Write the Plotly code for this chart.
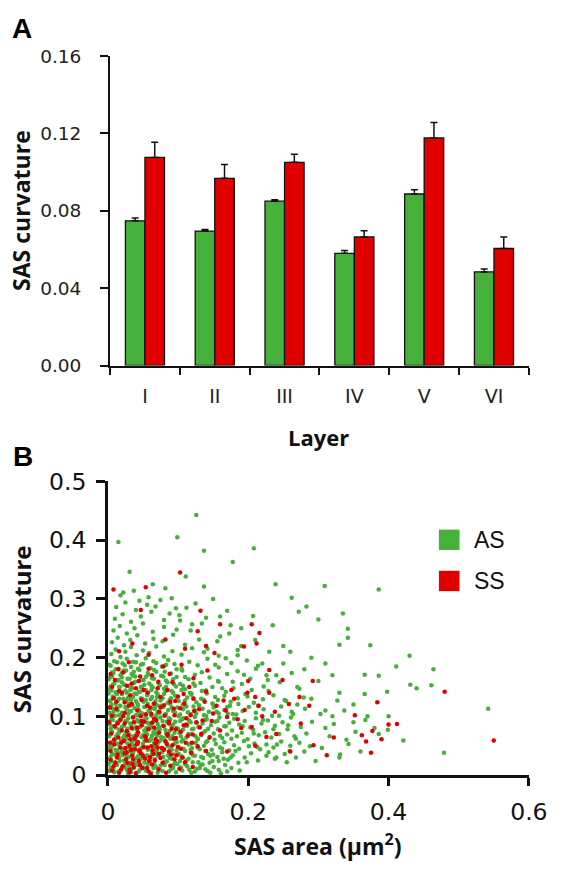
import plotly.graph_objects as go

W, H = 566, 884

# ---------------- Panel A data ----------------
layers = ["I", "II", "III", "IV", "V", "VI"]
as_curv_mean = [0.0748, 0.0695, 0.0850, 0.0580, 0.0887, 0.0484]
as_curv_sem = [0.0015, 0.0008, 0.0007, 0.0015, 0.0022, 0.0015]
ss_curv_mean = [0.1076, 0.0968, 0.1051, 0.0665, 0.1177, 0.0605]
ss_curv_sem = [0.0078, 0.0072, 0.0042, 0.0032, 0.0080, 0.0060]

a_yticks = [0.00, 0.04, 0.08, 0.12, 0.16]
a_yticktext = ["0.00", "0.04", "0.08", "0.12", "0.16"]

# ---------------- Panel B data: (SAS area, SAS curvature) ----------------
as_points = [
    (0.004,0.012),(0.009,0.005),(0.013,0.017),(0.018,0.008),(0.024,0.014),(0.029,0.003),(0.034,0.011),(0.039,0.018),(0.044,0.006),(0.051,0.013),
    (0.057,0.019),(0.062,0.004),(0.068,0.015),(0.074,0.009),(0.081,0.017),(0.087,0.006),(0.093,0.012),(0.099,0.019),(0.106,0.008),(0.113,0.015),
    (0.119,0.004),(0.127,0.011),(0.135,0.018),(0.142,0.007),(0.151,0.014),(0.158,0.009),(0.167,0.017),(0.176,0.012),(0.188,0.008),(0.161,0.003),
    (0.002,0.027),(0.006,0.036),(0.010,0.022),(0.014,0.031),(0.019,0.039),(0.023,0.025),(0.027,0.033),(0.032,0.021),(0.036,0.038),(0.041,0.029),
    (0.045,0.024),(0.049,0.035),(0.054,0.030),(0.058,0.022),(0.063,0.037),(0.067,0.027),(0.072,0.032),(0.077,0.039),(0.081,0.023),(0.086,0.034),
    (0.091,0.028),(0.096,0.021),(0.101,0.036),(0.107,0.030),(0.112,0.025),(0.118,0.038),(0.124,0.033),(0.129,0.022),(0.136,0.029),(0.143,0.036),
    (0.149,0.024),(0.156,0.031),(0.163,0.039),(0.171,0.026),(0.178,0.034),(0.186,0.021),(0.195,0.030),(0.204,0.037),(0.214,0.025),(0.226,0.033),
    (0.238,0.028),(0.252,0.036),(0.268,0.030),(0.296,0.024),(0.331,0.035),
    (0.003,0.048),(0.007,0.056),(0.011,0.043),(0.015,0.052),(0.019,0.059),(0.024,0.045),(0.028,0.054),(0.032,0.041),(0.037,0.050),(0.041,0.057),
    (0.046,0.044),(0.050,0.053),(0.054,0.047),(0.059,0.058),(0.063,0.042),(0.068,0.051),(0.072,0.055),(0.077,0.046),(0.082,0.059),(0.086,0.049),
    (0.091,0.043),(0.095,0.054),(0.100,0.048),(0.105,0.057),(0.110,0.041),(0.115,0.052),(0.120,0.046),(0.125,0.055),(0.131,0.044),(0.137,0.050),
    (0.142,0.058),(0.148,0.043),(0.154,0.053),(0.160,0.047),(0.166,0.056),(0.173,0.042),(0.180,0.051),(0.187,0.045),(0.194,0.058),(0.201,0.049),
    (0.209,0.054),(0.217,0.044),(0.226,0.052),(0.236,0.047),(0.247,0.057),(0.259,0.041),(0.273,0.055),(0.288,0.049),(0.305,0.046),(0.343,0.053),
    (0.002,0.066),(0.006,0.074),(0.010,0.061),(0.014,0.070),(0.018,0.078),(0.022,0.064),(0.026,0.072),(0.031,0.068),(0.035,0.079),(0.039,0.062),
    (0.043,0.071),(0.048,0.065),(0.052,0.076),(0.056,0.069),(0.061,0.061),(0.065,0.073),(0.070,0.067),(0.074,0.078),(0.079,0.063),(0.083,0.071),
    (0.088,0.075),(0.092,0.066),(0.097,0.060),(0.102,0.072),(0.107,0.077),(0.112,0.064),(0.117,0.070),(0.122,0.079),(0.128,0.062),(0.133,0.068),
    (0.139,0.075),(0.145,0.065),(0.151,0.071),(0.157,0.078),(0.163,0.063),(0.170,0.069),(0.177,0.076),(0.184,0.066),(0.191,0.072),(0.199,0.061),
    (0.207,0.077),(0.215,0.068),(0.224,0.073),(0.233,0.064),(0.244,0.070),(0.256,0.078),(0.268,0.062),(0.283,0.071),(0.316,0.066),(0.353,0.074),
    (0.003,0.086),(0.007,0.094),(0.011,0.081),(0.015,0.090),(0.019,0.098),(0.023,0.084),(0.027,0.092),(0.032,0.088),(0.036,0.099),(0.040,0.082),
    (0.044,0.091),(0.049,0.085),(0.053,0.096),(0.057,0.089),(0.062,0.081),(0.066,0.093),(0.071,0.087),(0.075,0.098),(0.080,0.083),(0.084,0.091),
    (0.089,0.095),(0.093,0.086),(0.098,0.080),(0.103,0.092),(0.108,0.097),(0.113,0.084),(0.118,0.090),(0.124,0.099),(0.129,0.082),(0.135,0.088),
    (0.141,0.095),(0.147,0.085),(0.153,0.091),(0.159,0.098),(0.166,0.083),(0.173,0.089),(0.180,0.096),(0.187,0.086),(0.195,0.092),(0.203,0.081),
    (0.211,0.097),(0.219,0.088),(0.228,0.093),(0.238,0.084),(0.249,0.090),(0.261,0.098),(0.275,0.082),(0.291,0.091),(0.322,0.087),(0.367,0.094),
    (0.002,0.106),(0.006,0.114),(0.010,0.101),(0.014,0.110),(0.018,0.118),(0.022,0.104),(0.027,0.112),(0.031,0.108),(0.035,0.119),(0.040,0.102),
    (0.044,0.111),(0.049,0.105),(0.053,0.116),(0.058,0.109),(0.062,0.101),(0.067,0.113),(0.071,0.107),(0.076,0.118),(0.081,0.103),(0.086,0.111),
    (0.091,0.115),(0.096,0.106),(0.101,0.100),(0.107,0.112),(0.112,0.117),(0.118,0.104),(0.124,0.110),(0.130,0.119),(0.137,0.102),(0.144,0.108),
    (0.151,0.115),(0.158,0.105),(0.166,0.111),(0.174,0.118),(0.183,0.103),(0.192,0.109),(0.201,0.116),(0.211,0.106),(0.222,0.112),(0.234,0.101),
    (0.247,0.117),(0.262,0.108),(0.281,0.113),(0.303,0.104),(0.337,0.110),
    (0.003,0.126),(0.007,0.134),(0.011,0.121),(0.016,0.130),(0.020,0.138),(0.024,0.124),(0.029,0.132),(0.033,0.128),(0.038,0.139),(0.042,0.122),
    (0.047,0.131),(0.051,0.125),(0.056,0.136),(0.061,0.129),(0.065,0.121),(0.070,0.133),(0.075,0.127),(0.080,0.138),(0.085,0.123),(0.090,0.131),
    (0.096,0.135),(0.101,0.126),(0.107,0.120),(0.113,0.132),(0.119,0.137),(0.126,0.124),(0.133,0.130),(0.141,0.139),(0.149,0.122),(0.157,0.128),
    (0.166,0.135),(0.175,0.125),(0.185,0.131),(0.196,0.138),(0.208,0.123),(0.221,0.129),(0.236,0.136),(0.254,0.126),(0.279,0.132),(0.327,0.127),
    (0.002,0.146),(0.007,0.154),(0.011,0.141),(0.016,0.150),(0.020,0.158),(0.025,0.144),(0.030,0.152),(0.035,0.148),(0.039,0.159),(0.044,0.142),
    (0.049,0.151),(0.054,0.145),(0.059,0.156),(0.064,0.149),(0.069,0.141),(0.074,0.153),(0.080,0.147),(0.085,0.158),(0.091,0.143),(0.097,0.151),
    (0.103,0.155),(0.110,0.146),(0.117,0.140),(0.124,0.152),(0.132,0.157),(0.140,0.144),(0.149,0.150),(0.158,0.159),(0.168,0.142),(0.179,0.148),
    (0.191,0.155),(0.205,0.145),(0.222,0.151),(0.245,0.158),(0.273,0.147),
    (0.003,0.166),(0.008,0.174),(0.013,0.161),(0.018,0.170),(0.023,0.178),(0.028,0.164),(0.034,0.172),(0.039,0.168),(0.045,0.179),(0.051,0.162),
    (0.057,0.171),(0.063,0.165),(0.069,0.176),(0.076,0.169),(0.083,0.161),(0.090,0.173),(0.098,0.167),(0.106,0.178),(0.115,0.163),(0.124,0.171),
    (0.134,0.175),(0.145,0.166),(0.157,0.160),(0.170,0.172),(0.185,0.177),(0.203,0.164),(0.226,0.170),(0.262,0.174),
    (0.004,0.186),(0.009,0.194),(0.015,0.181),(0.021,0.190),(0.027,0.198),(0.033,0.184),(0.040,0.192),(0.047,0.188),(0.054,0.199),(0.061,0.182),
    (0.069,0.191),(0.077,0.185),(0.086,0.196),(0.095,0.189),(0.105,0.181),(0.116,0.193),(0.128,0.187),(0.142,0.198),(0.158,0.183),(0.176,0.191),
    (0.198,0.195),(0.214,0.186),
    (0.005,0.206),(0.011,0.214),(0.018,0.201),(0.025,0.210),(0.033,0.218),(0.041,0.204),(0.050,0.212),(0.059,0.208),(0.069,0.219),(0.080,0.202),
    (0.092,0.211),(0.105,0.205),(0.120,0.216),(0.137,0.209),(0.158,0.203),(0.185,0.213),
    (0.006,0.226),(0.014,0.234),(0.023,0.221),(0.032,0.230),(0.042,0.238),(0.053,0.224),(0.065,0.232),(0.078,0.228),(0.093,0.239),(0.110,0.222),
    (0.130,0.231),(0.160,0.236),
    (0.008,0.246),(0.017,0.254),(0.027,0.241),(0.038,0.250),(0.050,0.258),(0.064,0.244),(0.080,0.252),(0.098,0.248),(0.120,0.257),(0.175,0.255),
    (0.010,0.266),(0.021,0.274),(0.033,0.261),(0.047,0.270),(0.062,0.278),(0.080,0.264),(0.102,0.272),(0.140,0.268),
    (0.012,0.286),(0.025,0.294),(0.040,0.281),(0.056,0.290),(0.075,0.298),(0.097,0.284),(0.125,0.292),
    (0.018,0.306),(0.037,0.314),(0.058,0.303),(0.082,0.318),(0.031,0.346),(0.111,0.338),(0.137,0.321),
    (0.126,0.443),(0.015,0.397),(0.099,0.405),(0.137,0.382),(0.208,0.386),(0.178,0.363),(0.239,0.325),(0.309,0.322),(0.386,0.316),(0.262,0.302),
    (0.335,0.275),(0.283,0.287),(0.300,0.265),(0.207,0.271),(0.272,0.278),(0.235,0.255),(0.342,0.249),(0.342,0.234),(0.330,0.222),(0.374,0.221),
    (0.430,0.203),(0.411,0.185),(0.464,0.180),(0.386,0.169),(0.366,0.171),(0.431,0.154),(0.440,0.148),(0.461,0.153),(0.398,0.142),(0.366,0.138),
    (0.542,0.113),(0.479,0.038),(0.421,0.059),(0.399,0.077),(0.386,0.070),
    (0.290,0.200),(0.310,0.190),(0.260,0.210),(0.320,0.170),(0.280,0.180),(0.300,0.160),(0.350,0.120),(0.330,0.140),(0.370,0.100),(0.310,0.080),
    (0.340,0.060),(0.330,0.030),(0.360,0.040),(0.290,0.130),(0.270,0.150),(0.250,0.190),(0.240,0.170),(0.220,0.190),(0.230,0.210),(0.210,0.230),
    (0.190,0.250),(0.170,0.280),(0.150,0.300),(0.160,0.270),(0.190,0.220),(0.250,0.220),(0.270,0.120),(0.260,0.050),(0.280,0.040),(0.240,0.030),
    (0.310,0.110),(0.320,0.100),(0.350,0.090),(0.400,0.100),(0.380,0.080),
    # dense core (second pass of readings)
    (0.002,0.007),(0.008,0.011),(0.015,0.006),(0.021,0.013),(0.027,0.009),(0.033,0.005),(0.046,0.010),(0.054,0.008),(0.065,0.012),(0.071,0.004),
    (0.078,0.007),(0.090,0.010),(0.097,0.005),(0.104,0.013),(0.116,0.009),(0.124,0.006),(0.131,0.012),(0.139,0.010),(0.146,0.004),(0.170,0.006),
    (0.001,0.019),(0.005,0.023),(0.012,0.018),(0.017,0.024),(0.025,0.020),(0.030,0.016),(0.038,0.022),(0.043,0.017),(0.052,0.021),(0.060,0.025),
    (0.066,0.019),(0.075,0.016),(0.084,0.023),(0.094,0.018),(0.103,0.024),(0.110,0.019),(0.121,0.022),(0.132,0.017),(0.145,0.021),(0.158,0.024),
    (0.004,0.031),(0.009,0.035),(0.016,0.029),(0.021,0.034),(0.030,0.031),(0.034,0.036),(0.043,0.032),(0.047,0.028),(0.056,0.034),(0.061,0.030),
    (0.070,0.036),(0.079,0.031),(0.088,0.029),(0.094,0.035),(0.105,0.032),(0.115,0.028),(0.121,0.034),(0.133,0.031),(0.146,0.033),(0.175,0.030),
    (0.001,0.043),(0.005,0.047),(0.013,0.041),(0.017,0.046),(0.022,0.042),(0.030,0.047),(0.035,0.044),(0.044,0.040),(0.048,0.046),(0.057,0.043),
    (0.066,0.047),(0.070,0.041),(0.080,0.045),(0.089,0.047),(0.098,0.042),(0.108,0.045),(0.118,0.043),(0.128,0.047),(0.139,0.041),(0.163,0.045),
    (0.005,0.055),(0.009,0.060),(0.013,0.054),(0.021,0.058),(0.026,0.062),(0.034,0.056),(0.039,0.060),(0.043,0.053),(0.052,0.058),(0.061,0.061),
    (0.066,0.055),(0.075,0.059),(0.084,0.054),(0.089,0.062),(0.098,0.056),(0.107,0.060),(0.118,0.054),(0.128,0.061),(0.140,0.056),(0.152,0.060),
    (0.001,0.067),(0.004,0.071),(0.012,0.066),(0.016,0.072),(0.024,0.068),(0.029,0.073),(0.037,0.066),(0.041,0.070),(0.050,0.068),(0.054,0.073),
    (0.063,0.067),(0.068,0.071),(0.076,0.065),(0.086,0.069),(0.095,0.072),(0.104,0.066),(0.115,0.070),(0.125,0.066),(0.136,0.072),(0.160,0.067),
    (0.004,0.079),(0.008,0.083),(0.016,0.077),(0.020,0.082),(0.028,0.079),(0.033,0.084),(0.041,0.078),(0.046,0.082),(0.055,0.080),(0.060,0.085),
    (0.068,0.078),(0.073,0.082),(0.082,0.077),(0.091,0.083),(0.100,0.079),(0.110,0.084),(0.120,0.078),(0.131,0.082),(0.143,0.079),(0.168,0.083),
    (0.001,0.091),(0.005,0.096),(0.013,0.090),(0.017,0.094),(0.025,0.092),(0.029,0.097),(0.038,0.090),(0.042,0.094),(0.051,0.092),(0.055,0.097),
    (0.064,0.090),(0.069,0.095),(0.078,0.092),(0.087,0.097),(0.096,0.091),(0.106,0.095),(0.116,0.093),(0.127,0.089),(0.139,0.094),(0.156,0.092),
    (0.004,0.103),(0.008,0.108),(0.016,0.102),(0.020,0.106),(0.029,0.104),(0.033,0.109),(0.042,0.102),(0.046,0.107),(0.055,0.104),(0.060,0.109),
    (0.069,0.102),(0.074,0.106),(0.083,0.104),(0.093,0.109),(0.103,0.103),(0.114,0.107),(0.126,0.105),(0.140,0.101),(0.155,0.108),(0.178,0.104),
    (0.001,0.115),(0.005,0.120),(0.013,0.114),(0.017,0.118),(0.025,0.116),(0.030,0.121),(0.038,0.114),(0.043,0.118),(0.052,0.116),(0.057,0.121),
    (0.065,0.114),(0.070,0.119),(0.079,0.116),(0.089,0.121),(0.099,0.115),(0.110,0.119),(0.122,0.117),(0.135,0.113),(0.150,0.120),(0.170,0.116),
    (0.004,0.127),(0.009,0.132),(0.014,0.126),(0.022,0.130),(0.027,0.128),(0.036,0.133),(0.040,0.126),(0.049,0.130),(0.054,0.128),(0.063,0.133),
    (0.068,0.126),(0.078,0.131),(0.088,0.128),(0.098,0.133),(0.110,0.127),(0.122,0.131),(0.137,0.128),(0.153,0.133),
    (0.001,0.139),(0.005,0.144),(0.013,0.138),(0.018,0.142),(0.027,0.140),(0.032,0.145),(0.041,0.138),(0.046,0.142),(0.056,0.140),(0.062,0.145),
    (0.071,0.138),(0.082,0.143),(0.093,0.140),(0.105,0.145),(0.119,0.139),(0.134,0.143),
    (0.004,0.151),(0.009,0.156),(0.017,0.150),(0.023,0.154),(0.032,0.152),(0.037,0.157),(0.047,0.150),(0.052,0.154),(0.062,0.152),(0.072,0.157),
    (0.083,0.150),(0.094,0.155),(0.107,0.152),(0.122,0.156),
    (0.001,0.163),(0.006,0.168),(0.015,0.162),(0.020,0.166),(0.031,0.164),(0.036,0.169),(0.048,0.162),(0.054,0.167),(0.066,0.164),(0.079,0.168),
    (0.093,0.163),(0.110,0.167),
    (0.006,0.175),(0.011,0.180),(0.020,0.174),(0.026,0.178),(0.037,0.176),(0.043,0.181),(0.057,0.174),(0.066,0.179),(0.081,0.176),(0.098,0.180),
    (0.002,0.188),(0.013,0.192),(0.024,0.187),(0.036,0.193),(0.050,0.189),(0.065,0.194),(0.083,0.188),
    (0.150,0.035),(0.165,0.028),(0.182,0.041),(0.198,0.022),(0.213,0.048),(0.229,0.039),(0.176,0.062),(0.192,0.083),(0.208,0.071),(0.221,0.094),
    (0.236,0.078),(0.244,0.101),(0.171,0.105),(0.186,0.121),(0.199,0.134),(0.214,0.118),(0.229,0.143),(0.163,0.148),(0.178,0.159),(0.194,0.171),
    (0.211,0.181),(0.228,0.162),(0.153,0.188),(0.168,0.199),(0.185,0.204),(0.142,0.215),(0.156,0.228),(0.173,0.241),(0.118,0.246),(0.134,0.258),
    (0.103,0.263),(0.088,0.275),(0.068,0.287),(0.045,0.297),(0.022,0.311),(0.064,0.325),(0.091,0.301),(0.112,0.285),(0.257,0.085),(0.264,0.104),
    (0.252,0.128),(0.266,0.066),(0.241,0.052),(0.255,0.022),
]

ss_points = [
    (0.006,0.008),(0.011,0.021),(0.016,0.004),(0.021,0.015),(0.026,0.027),(0.031,0.009),(0.035,0.019),(0.040,0.003),(0.044,0.024),(0.049,0.012),
    (0.053,0.028),(0.058,0.006),(0.063,0.018),(0.067,0.025),(0.072,0.010),(0.078,0.021),(0.083,0.004),(0.089,0.016),(0.095,0.027),(0.102,0.011),
    (0.110,0.022),(0.121,0.014),(0.004,0.026),(0.037,0.013),(0.061,0.002),
    (0.004,0.041),(0.009,0.052),(0.014,0.035),(0.018,0.047),(0.023,0.058),(0.027,0.039),(0.031,0.050),(0.035,0.033),(0.039,0.044),(0.043,0.056),
    (0.047,0.037),(0.051,0.048),(0.055,0.059),(0.060,0.031),(0.064,0.042),(0.068,0.054),(0.073,0.036),(0.077,0.046),(0.082,0.057),(0.087,0.040),
    (0.092,0.051),(0.098,0.034),(0.104,0.045),(0.111,0.055),(0.119,0.038),(0.128,0.049),(0.140,0.041),(0.025,0.046),(0.045,0.042),(0.057,0.047),
    (0.005,0.071),(0.010,0.083),(0.015,0.064),(0.020,0.076),(0.024,0.088),(0.029,0.068),(0.034,0.080),(0.038,0.062),(0.043,0.073),(0.048,0.085),
    (0.053,0.066),(0.058,0.078),(0.063,0.089),(0.068,0.061),(0.073,0.072),(0.079,0.084),(0.085,0.067),(0.091,0.079),(0.097,0.063),(0.104,0.074),
    (0.112,0.086),(0.121,0.069),(0.131,0.081),(0.145,0.064),(0.160,0.076),(0.041,0.067),(0.066,0.081),(0.087,0.088),
    (0.006,0.101),(0.012,0.113),(0.018,0.094),(0.024,0.106),(0.030,0.118),(0.036,0.098),(0.042,0.110),(0.048,0.092),(0.054,0.103),(0.060,0.115),
    (0.066,0.096),(0.073,0.108),(0.080,0.119),(0.087,0.091),(0.095,0.102),(0.103,0.114),(0.112,0.097),(0.123,0.109),(0.135,0.093),(0.150,0.105),
    (0.170,0.099),(0.195,0.111),
    (0.008,0.131),(0.016,0.143),(0.024,0.124),(0.032,0.136),(0.040,0.148),(0.048,0.128),(0.057,0.140),(0.066,0.122),(0.075,0.133),(0.085,0.145),
    (0.096,0.126),(0.108,0.138),(0.122,0.130),(0.140,0.142),(0.165,0.127),(0.210,0.133),
    (0.010,0.162),(0.022,0.175),(0.034,0.156),(0.046,0.168),(0.058,0.181),(0.072,0.159),(0.088,0.172),(0.105,0.188),(0.122,0.165),(0.142,0.178),
    (0.004,0.172),(0.030,0.192),
    (0.016,0.211),(0.035,0.224),(0.058,0.205),(0.082,0.231),(0.110,0.215),(0.140,0.220),(0.152,0.208),(0.128,0.245),
    (0.008,0.316),(0.103,0.345),(0.054,0.320),(0.047,0.281),(0.132,0.280),(0.160,0.257),(0.205,0.257),(0.216,0.242),(0.212,0.224),(0.194,0.219),
    (0.480,0.142),(0.550,0.059),(0.384,0.124),(0.352,0.102),(0.412,0.087),(0.400,0.086),(0.377,0.075),(0.390,0.061),(0.375,0.038),(0.368,0.057),
    (0.362,0.068),(0.322,0.064),(0.312,0.034),(0.293,0.051),(0.292,0.160),(0.275,0.088),(0.287,0.118),(0.249,0.162),(0.230,0.179),(0.258,0.121),
    (0.273,0.133),(0.220,0.100),(0.240,0.070),(0.210,0.050),(0.190,0.080),(0.180,0.130),(0.260,0.040),(0.230,0.140),(0.170,0.040),(0.200,0.160),
    # dense core (second pass of readings)
    (0.008,0.015),(0.013,0.030),(0.019,0.010),(0.024,0.037),(0.028,0.021),(0.033,0.043),(0.036,0.027),(0.041,0.052),(0.046,0.017),(0.050,0.033),
    (0.054,0.064),(0.059,0.024),(0.062,0.049),(0.065,0.036),(0.070,0.058),(0.075,0.029),(0.080,0.043),(0.085,0.070),(0.090,0.035),(0.094,0.062),
    (0.100,0.048),(0.106,0.030),(0.114,0.067),(0.120,0.055),(0.126,0.090),(0.133,0.070),(0.009,0.060),(0.014,0.088),(0.019,0.055),(0.022,0.100),
    (0.027,0.075),(0.032,0.061),(0.037,0.090),(0.042,0.080),(0.047,0.100),(0.052,0.091),(0.056,0.118),(0.062,0.104),(0.069,0.093),(0.075,0.115),
    (0.081,0.101),(0.089,0.125),(0.094,0.113),(0.100,0.134),(0.109,0.122),(0.116,0.150),(0.012,0.125),(0.020,0.140),(0.027,0.152),(0.034,0.121),
    (0.044,0.160),(0.051,0.145),(0.063,0.170),(0.071,0.148),(0.079,0.185),(0.092,0.158),(0.015,0.180),(0.006,0.150),(0.003,0.115),(0.002,0.090),
    (0.003,0.055),(0.031,0.005),(0.056,0.012),(0.071,0.047),(0.084,0.053),(0.097,0.078),(0.108,0.085),(0.118,0.102),(0.130,0.112),(0.138,0.125),
    (0.148,0.092),(0.155,0.118),(0.168,0.110),(0.176,0.145),(0.185,0.095),(0.199,0.140),(0.205,0.082),(0.215,0.118),(0.226,0.065),(0.238,0.108),
]

as_area = [p[0] for p in as_points]
as_curv = [p[1] for p in as_points]
ss_area = [p[0] for p in ss_points]
ss_curv = [p[1] for p in ss_points]

b_xticks = [0, 0.2, 0.4, 0.6]
b_xticktext = ["0", "0.2", "0.4", "0.6"]
b_yticks = [0, 0.1, 0.2, 0.3, 0.4, 0.5]
b_yticktext = ["0", "0.1", "0.2", "0.3", "0.4", "0.5"]

legend_labels = ["AS", "SS"]

GREEN = "#45b03a"
RED = "#e00000"
INK = "#111111"


def px_x(p):
    return p / W


def px_y(p):
    return 1 - p / H


fig = go.Figure()

fig.add_trace(go.Bar(
    x=layers, y=as_curv_mean, name="AS", xaxis="x", yaxis="y",
    marker=dict(color=GREEN, line=dict(color=INK, width=1.3)),
    error_y=dict(type="data", array=as_curv_sem, symmetric=False, arrayminus=[0] * 6,
                 color=INK, thickness=1.5, width=3.5),
    showlegend=False,
))
fig.add_trace(go.Bar(
    x=layers, y=ss_curv_mean, name="SS", xaxis="x", yaxis="y",
    marker=dict(color=RED, line=dict(color=INK, width=1.3)),
    error_y=dict(type="data", array=ss_curv_sem, symmetric=False, arrayminus=[0] * 6,
                 color=INK, thickness=1.5, width=3.5),
    showlegend=False,
))

fig.add_trace(go.Scatter(
    x=as_area, y=as_curv, mode="markers", name="AS", xaxis="x2", yaxis="y2",
    marker=dict(color=GREEN, size=4.5, line=dict(width=0)), showlegend=False,
))
fig.add_trace(go.Scatter(
    x=ss_area, y=ss_curv, mode="markers", name="SS", xaxis="x2", yaxis="y2",
    marker=dict(color=RED, size=4.5, line=dict(width=0)), showlegend=False,
))

tick_font_a = dict(family="DejaVu Sans", size=18.5, color="#222222")
tick_font_b = dict(family="DejaVu Sans", size=23.5, color=INK)

fig.update_layout(
    width=W, height=H,
    margin=dict(l=0, r=0, t=0, b=0),
    paper_bgcolor="white", plot_bgcolor="white",
    barmode="group", bargap=0.44, bargroupgap=0,
    showlegend=False,
    xaxis=dict(
        domain=[px_x(108), px_x(547)], anchor="y", type="category",
        range=[-0.5, 5.5], tickson="boundaries",
        ticks="outside", ticklen=7, tickwidth=2, tickcolor=INK,
        showline=True, linecolor=INK, linewidth=2,
        showgrid=False, zeroline=False,
        tickfont=dict(family="DejaVu Sans", size=19, color="#222222"),
        ticklabelstandoff=13,
    ),
    yaxis=dict(
        domain=[px_y(363), px_y(43.5)], anchor="x",
        range=[0, 0.16], tickvals=a_yticks, ticktext=a_yticktext,
        ticks="outside", ticklen=8, tickwidth=2, tickcolor=INK,
        showline=True, linecolor=INK, linewidth=2,
        showgrid=False, zeroline=False, tickfont=tick_font_a,
        ticklabelstandoff=15,
    ),
    xaxis2=dict(
        domain=[px_x(105.7), px_x(547)], anchor="y2",
        range=[0, 0.6], tickvals=b_xticks, ticktext=b_xticktext,
        ticks="outside", ticklen=8, tickwidth=2.5, tickcolor=INK,
        showline=True, linecolor=INK, linewidth=2.5,
        showgrid=False, zeroline=False, tickfont=tick_font_b,
        ticklabelstandoff=6,
    ),
    yaxis2=dict(
        domain=[px_y(786), px_y(482.7)], anchor="x2",
        range=[0, 0.5], tickvals=b_yticks, ticktext=b_yticktext,
        ticks="outside", ticklen=9, tickwidth=2.5, tickcolor=INK,
        showline=True, linecolor=INK, linewidth=2.5,
        showgrid=False, zeroline=False, tickfont=tick_font_b,
        ticklabelstandoff=5,
    ),
)

annotations = [
    dict(text="A", x=px_x(3), y=px_y(15), xanchor="left", yanchor="middle",
         font=dict(family="Liberation Sans", size=28, color="#000000", weight="bold")),
    dict(text="B", x=px_x(4), y=px_y(457), xanchor="left", yanchor="middle",
         font=dict(family="Liberation Sans", size=28, color="#000000", weight="bold")),
    dict(text="SAS curvature", x=px_x(14), y=px_y(203), xanchor="center", yanchor="middle",
         textangle=-90, font=dict(family="Open Sans", size=23, color=INK, weight="bold")),
    dict(text="Layer", x=px_x(326), y=px_y(437), xanchor="center", yanchor="middle",
         font=dict(family="Open Sans", size=22, color=INK, weight="bold")),
    dict(text="SAS curvature", x=px_x(16), y=px_y(635), xanchor="center", yanchor="middle",
         textangle=-90, font=dict(family="Open Sans", size=24, color=INK, weight="bold")),
    dict(text="SAS area (μm<sup>2</sup>)", x=px_x(326), y=px_y(858), xanchor="center", yanchor="middle",
         font=dict(family="Open Sans", size=23, color=INK, weight="bold")),
]

# legend for panel B
legend_colors = [GREEN, RED]
legend_centers_y = [543, 585.5]
shapes = []
for lab, col, cy in zip(legend_labels, legend_colors, legend_centers_y):
    shapes.append(dict(type="rect", xref="paper", yref="paper",
                       x0=px_x(452.7), x1=px_x(474.3), y0=px_y(cy + 10.5), y1=px_y(cy - 10.5),
                       fillcolor=col, line=dict(width=0)))
    annotations.append(dict(text=lab, x=px_x(487), y=px_y(cy), xanchor="left", yanchor="middle",
                            font=dict(family="Liberation Sans", size=23, color=INK)))

for a in annotations:
    a.update(xref="paper", yref="paper", showarrow=False)

fig.update_layout(annotations=annotations, shapes=shapes)

fig.write_html("out.html", config={"displayModeBar": False},
               post_script="document.body.style.margin='0';")
